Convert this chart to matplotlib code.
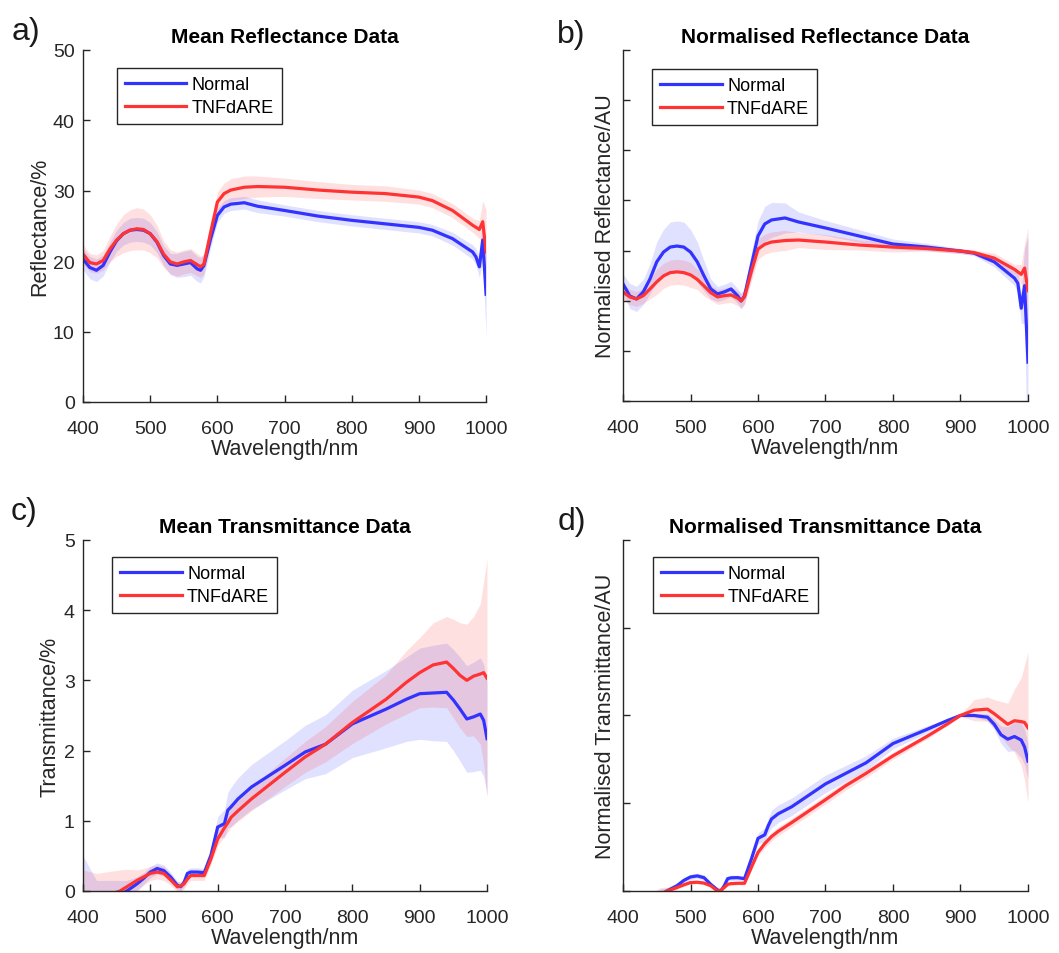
import numpy as np
import matplotlib
matplotlib.use("Agg")
import matplotlib.pyplot as plt

plt.rcParams["font.family"] = ["Liberation Sans", "DejaVu Sans"]

# wavelength grids (nm)
wl_refl = [400, 410, 420, 430, 440, 450, 460, 470, 480, 490, 500, 510, 520, 530, 540,
           550, 560, 570, 575, 580, 590, 600, 610, 620, 640, 660, 700, 750, 800, 850,
           900, 920, 950, 980, 985, 990, 995, 1000]
wl_trans = [400, 420, 440, 455, 465, 480, 490, 500, 510, 520, 530, 540, 545, 550, 555,
            560, 570, 580, 590, 600, 610, 615, 620, 630, 650, 700, 730, 760, 800, 850,
            880, 900, 920, 940, 950, 960, 970, 980, 990, 995, 1000]

# a) mean reflectance (%)
refl_normal = [20.3, 19.1, 18.7, 19.4, 21.3, 22.9, 23.9, 24.4, 24.5, 24.4, 23.9, 22.7, 20.8,
               19.6, 19.4, 19.6, 19.8, 18.9, 18.7, 19.4, 23.2, 26.5, 27.7, 28.1, 28.3, 27.8,
               27.2, 26.4, 25.8, 25.3, 24.8, 24.4, 23.2, 21.3, 20.6, 19.2, 23.0, 15.3]
refl_normal_sd = [1.5, 1.6, 1.6, 1.5, 1.4, 1.5, 1.6, 1.7, 1.7, 1.7, 1.6, 1.5, 1.4, 1.5, 1.7,
                  1.8, 1.8, 1.8, 1.8, 1.6, 1.3, 1.0, 0.9, 0.9, 0.9, 0.9, 0.8, 0.8, 0.8, 0.8,
                  0.8, 0.8, 0.9, 1.0, 1.2, 1.5, 3.0, 6.0]
refl_tnf = [21.0, 19.8, 19.6, 20.1, 21.7, 23.0, 23.9, 24.4, 24.6, 24.5, 23.9, 22.8, 21.0,
            19.9, 19.6, 19.9, 20.1, 19.5, 19.2, 19.6, 24.1, 28.4, 29.6, 30.1, 30.5, 30.6,
            30.5, 30.1, 29.8, 29.6, 29.1, 28.6, 27.2, 25.1, 24.8, 24.5, 25.6, 21.3]
refl_tnf_sd = [1.4, 1.3, 1.3, 1.4, 1.8, 2.3, 2.7, 2.9, 3.0, 2.9, 2.7, 2.3, 1.9, 1.7, 1.7,
               1.7, 1.7, 1.6, 1.5, 1.4, 1.3, 1.4, 1.5, 1.6, 1.6, 1.5, 1.3, 1.2, 1.1, 1.1,
               1.0, 1.0, 1.0, 1.0, 1.1, 1.3, 3.0, 6.0]

# b) normalised reflectance (AU, 1 at 900 nm)
nrefl_normal = [0.867, 0.819, 0.807, 0.835, 0.887, 0.955, 0.994, 1.014, 1.018, 1.014, 0.994,
                0.955, 0.899, 0.847, 0.827, 0.835, 0.847, 0.819, 0.799, 0.819, 0.939, 1.058,
                1.106, 1.122, 1.130, 1.114, 1.090, 1.058, 1.026, 1.014, 0.998, 0.990, 0.955,
                0.890, 0.870, 0.770, 0.860, 0.555]
nrefl_normal_sd = [0.04, 0.05, 0.05, 0.05, 0.06, 0.08, 0.09, 0.10, 0.10, 0.10, 0.09, 0.08,
                   0.06, 0.04, 0.03, 0.03, 0.03, 0.03, 0.03, 0.03, 0.05, 0.06, 0.07, 0.07,
                   0.06, 0.04, 0.03, 0.025, 0.02, 0.015, 0.01, 0.01, 0.02, 0.03, 0.04, 0.06,
                   0.15, 0.5]
nrefl_tnf = [0.835, 0.815, 0.807, 0.820, 0.847, 0.875, 0.899, 0.912, 0.915, 0.912, 0.903,
             0.885, 0.859, 0.832, 0.815, 0.820, 0.823, 0.810, 0.799, 0.815, 0.915, 1.006,
             1.025, 1.034, 1.040, 1.042, 1.034, 1.022, 1.014, 1.008, 0.998, 0.992, 0.970,
             0.925, 0.915, 0.905, 0.930, 0.840]
nrefl_tnf_sd = [0.03, 0.03, 0.03, 0.03, 0.04, 0.05, 0.05, 0.05, 0.05, 0.05, 0.05, 0.04,
                0.04, 0.03, 0.03, 0.03, 0.03, 0.03, 0.03, 0.03, 0.04, 0.04, 0.04, 0.04,
                0.04, 0.03, 0.03, 0.02, 0.02, 0.01, 0.01, 0.01, 0.02, 0.02, 0.03, 0.04,
                0.10, 0.25]

# c) mean transmittance (%)
trans_normal = [-0.15, -0.15, -0.10, -0.05, 0.00, 0.10, 0.18, 0.27, 0.32, 0.29, 0.20, 0.08,
                0.06, 0.12, 0.25, 0.27, 0.27, 0.26, 0.51, 0.91, 0.96, 1.15, 1.20, 1.31, 1.48,
                1.79, 1.98, 2.09, 2.38, 2.59, 2.73, 2.81, 2.82, 2.83, 2.72, 2.59, 2.45, 2.48,
                2.52, 2.43, 2.17]
trans_normal_sd = [0.65, 0.3, 0.25, 0.2, 0.15, 0.1, 0.08, 0.08, 0.08, 0.08, 0.07, 0.06, 0.06,
                   0.06, 0.06, 0.06, 0.06, 0.06, 0.1, 0.15, 0.2, 0.25, 0.28, 0.3, 0.32, 0.35,
                   0.38, 0.42, 0.48, 0.55, 0.6, 0.65, 0.68, 0.7, 0.72, 0.74, 0.76, 0.78, 0.8,
                   0.8, 0.8]
trans_tnf = [-0.10, -0.10, -0.05, 0.00, 0.06, 0.15, 0.20, 0.25, 0.27, 0.25, 0.16, 0.06, 0.07,
             0.10, 0.17, 0.22, 0.22, 0.22, 0.46, 0.74, 0.90, 0.97, 1.05, 1.14, 1.31, 1.69,
             1.91, 2.09, 2.40, 2.73, 2.97, 3.11, 3.22, 3.26, 3.17, 3.07, 3.00, 3.06, 3.09,
             3.11, 3.03]
trans_tnf_sd = [0.4, 0.35, 0.33, 0.3, 0.25, 0.15, 0.12, 0.1, 0.1, 0.1, 0.08, 0.07, 0.07, 0.07,
                0.07, 0.07, 0.07, 0.07, 0.08, 0.1, 0.12, 0.13, 0.14, 0.15, 0.17, 0.2, 0.22,
                0.25, 0.3, 0.35, 0.45, 0.5, 0.6, 0.65, 0.7, 0.75, 0.8, 0.85, 1.0, 1.3, 1.7]

# d) normalised transmittance (AU, 1 at 900 nm)
ntrans_normal = [-0.10, -0.10, -0.08, -0.03, 0.00, 0.03, 0.06, 0.08, 0.086, 0.076, 0.038,
                 0.006, 0.0, 0.03, 0.07, 0.075, 0.076, 0.07, 0.18, 0.30, 0.32, 0.37, 0.41,
                 0.44, 0.48, 0.61, 0.67, 0.73, 0.84, 0.92, 0.97, 1.0, 1.0, 0.99, 0.95, 0.89,
                 0.865, 0.88, 0.86, 0.82, 0.74]
ntrans_normal_sd = [0.05, 0.05, 0.05, 0.04, 0.02, 0.015, 0.015, 0.015, 0.015, 0.015, 0.01,
                    0.01, 0.01, 0.01, 0.015, 0.015, 0.015, 0.015, 0.02, 0.03, 0.04, 0.04,
                    0.05, 0.05, 0.05, 0.05, 0.045, 0.04, 0.03, 0.02, 0.01, 0.005, 0.01, 0.02,
                    0.03, 0.05, 0.07, 0.08, 0.1, 0.1, 0.1]
ntrans_tnf = [-0.10, -0.10, -0.07, -0.02, 0.00, 0.02, 0.035, 0.048, 0.05, 0.045, 0.03, 0.0,
              0.005, 0.02, 0.038, 0.042, 0.044, 0.044, 0.133, 0.22, 0.27, 0.29, 0.31, 0.34,
              0.39, 0.52, 0.60, 0.67, 0.77, 0.88, 0.95, 1.0, 1.03, 1.036, 1.01, 0.98, 0.95,
              0.97, 0.965, 0.96, 0.93]
ntrans_tnf_sd = [0.05, 0.05, 0.05, 0.04, 0.02, 0.01, 0.01, 0.01, 0.01, 0.01, 0.01, 0.01,
                 0.01, 0.01, 0.01, 0.01, 0.01, 0.01, 0.015, 0.02, 0.025, 0.025, 0.025, 0.025,
                 0.025, 0.025, 0.025, 0.025, 0.02, 0.015, 0.01, 0.005, 0.06, 0.07, 0.08, 0.1,
                 0.12, 0.18, 0.25, 0.33, 0.43]

BLUE = (0.2, 0.2, 1.0)
RED = (1.0, 0.2, 0.2)
AXC = (0.15, 0.15, 0.15)


def shaded(ax, x, y, sd, color, label):
    x = np.array(x)
    y = np.array(y)
    sd = np.array(sd)
    ax.fill_between(x, y - sd, y + sd, color=color, alpha=0.15, lw=0)
    ax.plot(x, y, color=color, lw=2.3, label=label)


def panel(ax, letter, letter_pos, title, ylabel, x, yn, yn_sd, yt, yt_sd, ylim, yticks,
          show_y, leg_pos):
    shaded(ax, x, yn, yn_sd, BLUE, "Normal")
    shaded(ax, x, yt, yt_sd, RED, "TNFdARE")
    ax.set_xlim(400, 1000)
    ax.set_ylim(*ylim)
    ax.set_xticks(range(400, 1001, 100))
    ax.set_yticks(yticks)
    if not show_y:
        ax.set_yticklabels([])
    for s in ["top", "right"]:
        ax.spines[s].set_visible(False)
    for s in ["left", "bottom"]:
        ax.spines[s].set_color(AXC)
        ax.spines[s].set_linewidth(1.0)
    ax.tick_params(direction="in", length=5, width=1.0, colors=AXC, labelsize=14,
                   labelcolor=AXC)
    ax.tick_params(axis="x", pad=13)
    ax.tick_params(axis="y", pad=6)
    ax.set_title(title, fontsize=15, fontweight="bold", pad=6)
    ax.set_xlabel("Wavelength/nm", fontsize=15.5, color=AXC, labelpad=1)
    ax.set_ylabel(ylabel, fontsize=15.5, color=AXC, labelpad=2 if show_y else -1)
    leg = ax.legend(loc="upper left", bbox_to_anchor=leg_pos, borderaxespad=0,
                    fontsize=13, handlelength=3.4, handletextpad=0.3, fancybox=False,
                    framealpha=1, edgecolor=AXC, borderpad=0.45, labelspacing=0.35)
    leg.get_frame().set_linewidth(1.0)
    ax.text(letter_pos[0], letter_pos[1], letter, transform=ax.transAxes, fontsize=23,
            ha="left", va="center", color=(0.1, 0.1, 0.1))


fig = plt.figure(figsize=(10.59, 9.54), dpi=100)
ax_a = fig.add_axes([0.0784, 0.5776, 0.3806, 0.369])
ax_b = fig.add_axes([0.5883, 0.5786, 0.3824, 0.368])
ax_c = fig.add_axes([0.0784, 0.065, 0.3815, 0.368])
ax_d = fig.add_axes([0.5883, 0.065, 0.3824, 0.368])

panel(ax_a, "a)", (-0.178, 1.054), "Mean Reflectance Data", "Reflectance/%", wl_refl,
      refl_normal, refl_normal_sd, refl_tnf, refl_tnf_sd,
      (0, 50), range(0, 51, 10), True, (0.084, 0.949))
panel(ax_b, "b)", (-0.162, 1.045), "Normalised Reflectance Data",
      "Normalised Reflectance/AU", wl_refl,
      nrefl_normal, nrefl_normal_sd, nrefl_tnf, nrefl_tnf_sd,
      (0.4, 1.8), np.arange(0.4, 1.81, 0.2), False, (0.072, 0.946))
panel(ax_c, "c)", (-0.178, 1.083), "Mean Transmittance Data", "Transmittance/%", wl_trans,
      trans_normal, trans_normal_sd, trans_tnf, trans_tnf_sd,
      (0, 5), range(0, 6, 1), True, (0.072, 0.952))
panel(ax_d, "d)", (-0.162, 1.054), "Normalised Transmittance Data",
      "Normalised Transmittance/AU", wl_trans,
      ntrans_normal, ntrans_normal_sd, ntrans_tnf, ntrans_tnf_sd,
      (0, 2), np.arange(0, 2.01, 0.5), False, (0.074, 0.952))

fig.savefig("out.png", dpi=100, facecolor="white")
